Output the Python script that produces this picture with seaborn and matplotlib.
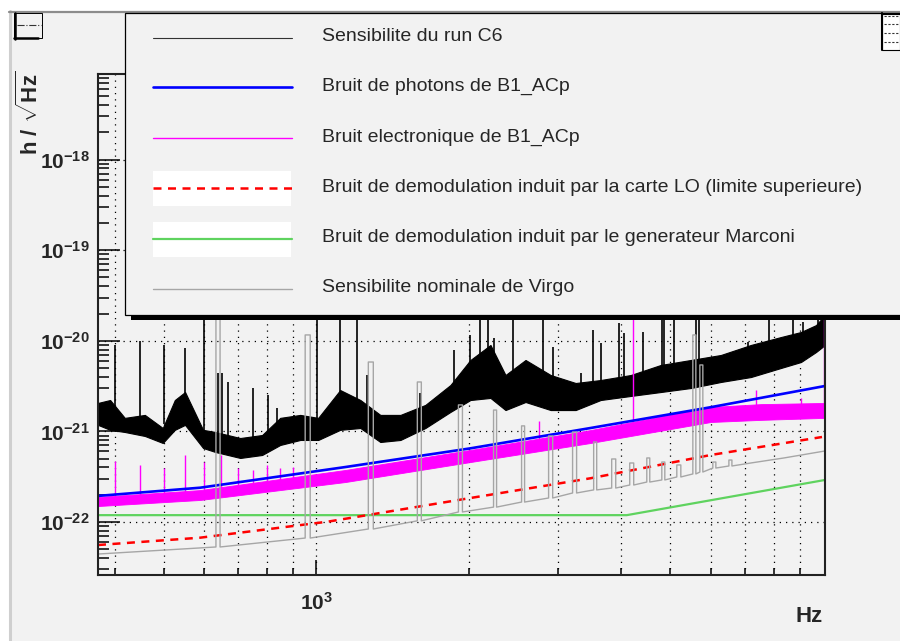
import matplotlib
matplotlib.use("Agg")
import numpy as np
import matplotlib.pyplot as plt
import seaborn as sns
from matplotlib.patches import Rectangle
from matplotlib.lines import Line2D
from matplotlib.ticker import FixedLocator, FuncFormatter, NullFormatter

## values (Hz, h / sqrt(Hz))

# run C6 sensitivity: noisy band (lower / upper edge) + lines
c6_freq = [371, 392, 419, 459, 498, 526, 551, 598, 632, 708, 782, 849, 930, 1009,
           1115, 1222, 1338, 1466, 1642, 1840, 2015, 2207, 2363, 2588, 2901, 3250,
           3641, 4174, 4785, 5484, 6286, 7205, 8260, 9047, 9688, 10090]
c6_upper = [2.06e-21, 2.22e-21, 1.41e-21, 1.52e-21, 1.09e-21, 2.22e-21, 2.72e-21,
            1.04e-21, 9.85e-22, 8.45e-22, 9.12e-22, 1.41e-21, 1.52e-21, 1.41e-21,
            2.86e-21, 2.22e-21, 1.52e-21, 1.52e-21, 1.96e-21, 3.25e-21, 6.14e-21,
            8.99e-21, 4.19e-21, 6.14e-21, 4.19e-21, 3.42e-21, 3.69e-21, 4.19e-21,
            5.41e-21, 6.14e-21, 6.97e-21, 8.99e-21, 1.10e-20, 1.25e-20, 1.49e-20, 1.93e-20]
c6_lower = [1.18e-21, 1.04e-21, 9.85e-22, 8.90e-22, 7.45e-22, 1.04e-21, 1.18e-21,
            6.56e-22, 5.93e-22, 5.09e-22, 5.49e-22, 7.08e-22, 8.04e-22, 8.04e-22,
            1.04e-21, 1.09e-21, 7.64e-22, 8.04e-22, 1.09e-21, 1.64e-21, 2.22e-21,
            2.34e-21, 1.72e-21, 2.11e-21, 1.72e-21, 1.72e-21, 2.22e-21, 2.46e-21,
            2.72e-21, 3.01e-21, 3.51e-21, 3.98e-21, 5.01e-21, 5.83e-21, 7.52e-21, 8.99e-21]
c6_spike_freq = [400, 450, 500, 550, 600, 640, 652, 670, 751, 803, 836, 902, 1003, 1115,
                 1205, 1261, 1605, 1866, 2015, 2109, 2178, 2238, 2440, 2797, 2928, 3325,
                 3512, 3641, 3953, 4044, 4410, 4807, 4851, 5077, 5611, 5688, 7108, 7823,
                 8725, 9130, 9775]
c6_spike_base = [1.2e-21, 1.2e-21, 1.2e-21, 1.2e-21, 9e-22, 7e-22, 7e-22, 7e-22, 7e-22,
                 8e-22, 9e-22, 1.0e-21, 1.0e-21, 1.5e-21, 1.4e-21, 1.2e-21, 1.2e-21,
                 2.0e-21, 3e-21, 3e-21, 3e-21, 3e-21, 2.5e-21, 2.5e-21, 2.5e-21, 2.5e-21,
                 2.6e-21, 2.6e-21, 2.8e-21, 2.8e-21, 3.2e-21, 3.5e-21, 3.5e-21, 3.7e-21,
                 4e-21, 4e-21, 5e-21, 6e-21, 7e-21, 8e-21, 1e-20]
c6_spike_peak = [8.99e-21, 9.95e-21, 8.99e-21, 8.33e-21, 1e-19, 4.41e-21, 4.41e-21,
                 3.51e-21, 3.01e-21, 2.52e-21, 1.81e-21, 1.52e-21, 1e-19, 1e-19, 1e-19,
                 4.19e-21, 2.65e-21, 7.91e-21, 1.16e-20, 1e-19, 1e-19, 1.07e-20, 1e-19,
                 1e-19, 8.54e-21, 4.41e-21, 1.32e-20, 9.46e-21, 1.57e-20, 1.22e-20,
                 1.25e-20, 1e-19, 1e-19, 1e-19, 1e-19, 1e-19, 9.68e-21, 1e-19, 1e-19,
                 1.61e-20, 1e-19]

# photon noise B1_ACp
photon_freq = [371, 590, 1141, 2015, 3479, 6007, 10090]
photon_h = [1.94e-22, 2.39e-22, 4.04e-22, 6.5e-22, 1.09e-21, 1.85e-21, 3.17e-21]

# electronic noise B1_ACp: band + lines
elec_freq = [371, 590, 1141, 2015, 3479, 6007, 7541, 10090]
elec_upper = [1.89e-22, 2.25e-22, 3.75e-22, 6.24e-22, 1.035e-21, 1.86e-21, 2.0e-21, 2.06e-21]
elec_lower = [1.50e-22, 1.75e-22, 2.76e-22, 4.59e-22, 7.45e-22, 1.27e-21, 1.34e-21, 1.41e-21]
elec_spike_freq = [400, 450, 500, 550, 600, 650, 700, 750, 800, 850, 900, 2746, 4212,
                   7373, 9047, 10060]
elec_spike_base = [1.7e-22, 1.75e-22, 1.8e-22, 1.9e-22, 2.0e-22, 2.1e-22, 2.2e-22,
                   2.3e-22, 2.4e-22, 2.5e-22, 2.6e-22, 8e-22, 1.2e-21, 1.7e-21, 1.7e-21, 1.7e-21]
elec_spike_peak = [4.7e-22, 4.26e-22, 3.94e-22, 5.49e-22, 4.59e-22, 5.49e-22, 3.94e-22,
                   3.75e-22, 4.26e-22, 3.94e-22, 4.05e-22, 1.30e-21, 1e-17, 2.86e-21,
                   2.34e-21, 1e-17]

# demodulation noise, LO card (upper limit)
lo_freq = [371, 590, 1056, 2015, 3479, 6007, 9954]
lo_h = [5.57e-23, 6.71e-23, 1.01e-22, 1.84e-22, 3.04e-22, 5.49e-22, 8.67e-22]

# demodulation noise, Marconi generator
marconi_freq = [371, 4100, 10090]
marconi_h = [1.19e-22, 1.19e-22, 2.91e-22]

# nominal Virgo sensitivity: smooth part + resonances (start, end, foot, top)
virgo_freq = [371, 7205, 8373, 10090]
virgo_h = [4.43e-23, 4.48e-22, 5.09e-22, 6.08e-22]
virgo_res_lo = [634, 951, 1267, 1583, 1908, 2238, 2542, 2874, 3205, 3527, 3828, 4155,
                4490, 4807, 5146, 5535, 5714, 6061, 6520]
virgo_res_hi = [646, 973, 1296, 1612, 1943, 2269, 2577, 2928, 3264, 3576, 3899, 4231,
                4551, 4873, 5241, 5611, 5792, 6145, 6610]
virgo_res_base = [5.30e-23, 6.65e-23, 8.37e-23, 1.03e-22, 1.29e-22, 1.46e-22, 1.66e-22,
                  1.84e-22, 2.09e-22, 2.26e-22, 2.37e-22, 2.56e-22, 2.76e-22, 2.91e-22,
                  3.14e-22, 3.39e-22, 3.56e-22, 3.94e-22, 4.15e-22]
virgo_res_peak = [1e-19, 1.16e-20, 5.83e-21, 3.51e-21, 1.96e-21, 1.72e-21, 1.15e-21,
                  8.90e-22, 9.85e-22, 7.64e-22, 4.96e-22, 4.48e-22, 5.09e-22, 4.59e-22,
                  4.26e-22, 1.16e-20, 5.41e-21, 4.59e-22, 4.83e-22]

legend_labels = ["Sensibilite du run C6",
                 "Bruit de photons de B1_ACp",
                 "Bruit electronique de B1_ACp",
                 "Bruit de demodulation induit par la carte LO (limite superieure)",
                 "Bruit de demodulation induit par le generateur Marconi",
                 "Sensibilite nominale de Virgo"]

x_ticks_major = [1000]
x_ticks_minor = [400, 500, 600, 700, 800, 900, 2000, 3000, 4000, 5000, 6000, 7000, 8000, 9000]
y_ticks_major = [1e-22, 1e-21, 1e-20, 1e-19, 1e-18]

## style
sns.set_style("ticks")
plt.rcParams['font.family'] = ['Liberation Sans', 'DejaVu Sans']
plt.rcParams['mathtext.fontset'] = 'custom'
plt.rcParams['mathtext.rm'] = 'Liberation Sans'
plt.rcParams['mathtext.bf'] = 'Liberation Sans:bold'
plt.rcParams['mathtext.it'] = 'Liberation Sans:italic'

W, H = 900, 641
BG = '#f2f2f2'


def fx(x):
    return x / W


def fy(y):
    return 1 - y / H


def px_rect(x0, y0, x1, y1, **kw):
    return Rectangle((fx(x0), fy(y1)), (x1 - x0) / W, (y1 - y0) / H,
                     transform=fig.transFigure, **kw)


fig = plt.figure(figsize=(9, 6.41), dpi=100, facecolor='white')

# canvas with its bevel
fig.add_artist(px_rect(9, 11, 900, 641, facecolor=BG, edgecolor='none', zorder=-10))
fig.add_artist(Line2D([fx(9.5), fx(9.5)], [fy(11), fy(641)], color='#cfcfcf', lw=2.2,
                      transform=fig.transFigure, zorder=-9))
fig.add_artist(Line2D([fx(9), fx(900)], [fy(11.5), fy(11.5)], color='#8c8c8c', lw=1.6,
                      transform=fig.transFigure, zorder=-9))

ax = fig.add_axes([fx(98), fy(575), (825 - 98) / W, (575 - 74) / H])
ax.set_facecolor(BG)
ax.set_xscale('log')
ax.set_yscale('log')

# curves
ax.fill_between(c6_freq, c6_lower, c6_upper, color='black', lw=0.8, zorder=2)
ax.vlines(c6_spike_freq, c6_spike_base, c6_spike_peak, color='black', lw=1.2, zorder=2)

ax.fill_between(elec_freq, elec_lower, elec_upper, color='#ff00ff', lw=0.6, zorder=3)
ax.vlines(elec_spike_freq, elec_spike_base, elec_spike_peak, color='#ff00ff', lw=1.0, zorder=3)

sns.lineplot(x=photon_freq, y=photon_h, ax=ax, color='#0000ff', lw=1.9, zorder=4,
             sort=False, estimator=None)
sns.lineplot(x=marconi_freq, y=marconi_h, ax=ax, color='#5fd35f', lw=1.6, zorder=4,
             sort=False, estimator=None)
sns.lineplot(x=lo_freq, y=lo_h, ax=ax, color='#ff0000', lw=1.8, zorder=5,
             sort=False, estimator=None, linestyle=(0, (3.2, 2.6)))

virgo_pts = list(zip(virgo_freq, virgo_h))
for lo, hi, b, p in zip(virgo_res_lo, virgo_res_hi, virgo_res_base, virgo_res_peak):
    virgo_pts += [(lo, b), (lo, p), (hi, p), (hi, b)]
virgo_pts.sort(key=lambda t: t[0])
sns.lineplot(x=[t[0] for t in virgo_pts], y=[t[1] for t in virgo_pts], ax=ax,
             color='#a6a6a6', lw=1.0, zorder=6, sort=False, estimator=None)

ax.set_xlim(371, 10090)
ax.set_ylim(2.6e-23, 8.8e-18)

# axes, ticks, grid
fmt = FuncFormatter(lambda v, p: r'$\mathbf{10^{%d}}$' % round(np.log10(v)))
y_minor = [m * d for d in [1e-23, 1e-22, 1e-21, 1e-20, 1e-19, 1e-18]
           for m in range(2, 10) if 2.6e-23 <= m * d <= 8.8e-18]
ax.xaxis.set_major_locator(FixedLocator(x_ticks_major))
ax.xaxis.set_minor_locator(FixedLocator(x_ticks_minor))
ax.xaxis.set_major_formatter(fmt)
ax.xaxis.set_minor_formatter(NullFormatter())
ax.yaxis.set_major_locator(FixedLocator(y_ticks_major))
ax.yaxis.set_minor_locator(FixedLocator(y_minor))
ax.yaxis.set_major_formatter(fmt)
ax.yaxis.set_minor_formatter(NullFormatter())

ax.tick_params(axis='y', which='major', direction='in', length=15.8, width=1.1,
               left=True, right=False, labelsize=15, pad=6, color='black')
ax.tick_params(axis='y', which='minor', direction='in', length=7.9, width=1.1,
               left=True, right=False, color='black')
ax.tick_params(axis='x', which='major', direction='in', length=10.8, width=1.1,
               bottom=True, top=False, labelsize=15, pad=12, color='black')
ax.tick_params(axis='x', which='minor', direction='in', length=5.4, width=1.1,
               bottom=True, top=False, color='black')

ax.grid(True, axis='x', which='both', color='black', lw=0.9, linestyle=(0, (1, 4)))
ax.grid(True, axis='y', which='major', color='black', lw=0.9, linestyle=(0, (1, 4)))
ax.set_axisbelow(True)
for s in ax.spines.values():
    s.set_linewidth(1.5)
    s.set_color('#222222')
    s.set_zorder(7)

fig.text(fx(30), fy(113), r'$\mathbf{h\ /\ \sqrt{Hz}}$', rotation=90, fontsize=16,
         ha='center', va='center')
fig.text(fx(823), fy(616), 'Hz', fontsize=16, fontweight='bold', ha='right', va='center')

# legend box (drawn by hand, ROOT style with shadow)
fig.add_artist(px_rect(131, 19, 900, 320, facecolor='black', edgecolor='none', zorder=9))
fig.add_artist(px_rect(124.5, 13, 902, 315.5, facecolor=BG, edgecolor='black', lw=0.9, zorder=10))
fig.add_artist(px_rect(153, 171, 291, 205.5, facecolor='white', edgecolor='none', zorder=11))
fig.add_artist(px_rect(153, 222, 291, 257, facecolor='white', edgecolor='none', zorder=11))

row_y = [37.5, 87, 138, 188, 239, 289]
row_style = [dict(color='#333333', lw=0.8),
             dict(color='#0000ff', lw=1.9),
             dict(color='#ff00ff', lw=1.0),
             dict(color='#ff0000', lw=1.8, linestyle=(0, (3.2, 2.6))),
             dict(color='#5fd35f', lw=1.6),
             dict(color='#a6a6a6', lw=1.0)]
for y, st, lab in zip(row_y, row_style, legend_labels):
    fig.add_artist(Line2D([fx(153), fx(292)], [fy(y), fy(y)], transform=fig.transFigure,
                          zorder=12, **st))
    fig.text(fx(322), fy(y - 1), lab, fontsize=14, ha='left', va='center', zorder=12)

# small boxes in the corners
fig.add_artist(px_rect(13.5, 13.5, 42, 38, facecolor=BG, edgecolor='black', lw=0.7, zorder=10))
fig.add_artist(Line2D([fx(14.5), fx(14.5)], [fy(13), fy(38.5)], color='black', lw=1.8,
                      transform=fig.transFigure, zorder=11))
fig.add_artist(Line2D([fx(13.5), fx(38)], [fy(37.5), fy(37.5)], color='black', lw=1.8,
                      transform=fig.transFigure, zorder=11))
fig.add_artist(Line2D([fx(17), fx(41)], [fy(25), fy(25)], color='#333333', lw=0.8,
                      linestyle='-.', transform=fig.transFigure, zorder=11))

fig.add_artist(px_rect(881.5, 13.5, 900, 50, facecolor='white', edgecolor='black', lw=0.8, zorder=13))
fig.add_artist(Line2D([fx(882), fx(882)], [fy(13), fy(50)], color='black', lw=1.5,
                      transform=fig.transFigure, zorder=14))
for y in [16, 24, 33, 42]:
    fig.add_artist(Line2D([fx(884), fx(898)], [fy(y), fy(y)], color='#333333', lw=0.8,
                          linestyle=(0, (2, 1.5)), transform=fig.transFigure, zorder=14))

fig.savefig('out.png', dpi=100, facecolor='white')
